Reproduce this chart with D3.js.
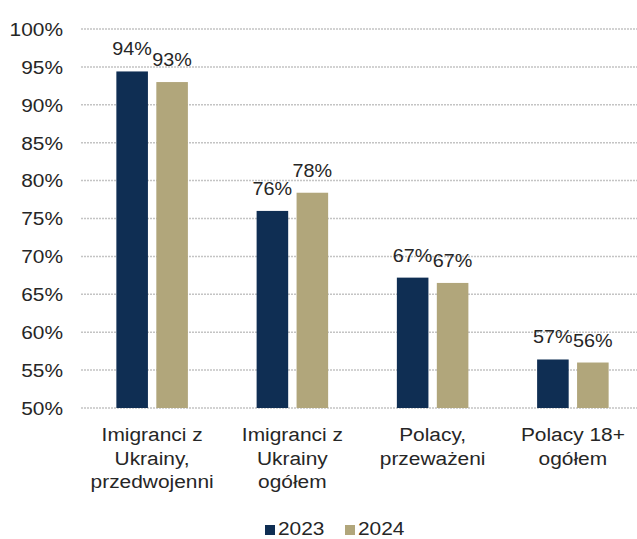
<!DOCTYPE html>
<html>
<head>
<meta charset="utf-8">
<script src="https://cdn.jsdelivr.net/npm/d3@7"></script>
<style>
  body { margin: 0; background: #fff; }
  text { font-family: "Liberation Sans", Arial, sans-serif; fill: #262626; }
</style>
</head>
<body>
<svg id="viz"></svg>
<script>
let width = 637;
let height = 539;

// data
let categories = [
    ["Imigranci z", "Ukrainy,", "przedwojenni"],
    ["Imigranci z", "Ukrainy", "ogółem"],
    ["Polacy,", "przeważeni"],
    ["Polacy 18+", "ogółem"]
];
let years = ["2023", "2024"];
let values2023 = [0.944, 0.760, 0.672, 0.564];
let values2024 = [0.930, 0.784, 0.665, 0.560];
let labels2023 = ["94%", "76%", "67%", "57%"];
let labels2024 = ["93%", "78%", "67%", "56%"];
let yTicks = [0.50, 0.55, 0.60, 0.65, 0.70, 0.75, 0.80, 0.85, 0.90, 0.95, 1.00];

let color = d3.scaleOrdinal().domain(years).range(["#0f2e53", "#b1a67b"]);
let stretch = 1.1;

let svg = d3.select("#viz")
    .attr("width", width)
    .attr("height", height);

let x0 = d3.scaleBand()
    .domain(d3.range(categories.length))
    .range([82, 643]);
let x1 = d3.scaleBand()
    .domain(years)
    .range([0, x0.bandwidth()])
    .paddingInner(0.21)
    .paddingOuter(0.86);
let y = d3.scaleLinear()
    .domain([0.5, 1])
    .range([408, 29]);

// gridlines
svg.append("g").selectAll("line")
    .data(yTicks)
    .enter().append("line")
    .attr("x1", 81)
    .attr("x2", width)
    .attr("y1", (d) => y(d))
    .attr("y2", (d) => y(d))
    .attr("stroke", "#c4c4c4")
    .attr("stroke-width", 1.5)
    .attr("stroke-dasharray", "2,1");

// y tick labels
svg.append("g").selectAll("text")
    .data(yTicks)
    .enter().append("text")
    .attr("transform", (d) => "translate(63," + y(d) + ") scale(" + stretch + ",1)")
    .attr("dy", "0.36em")
    .attr("text-anchor", "end")
    .style("font-size", "19px")
    .text((d) => d3.format(".0%")(d));

let rows = years.map((yr, i) => ({
    key: yr,
    values: i == 0 ? values2023 : values2024,
    labels: i == 0 ? labels2023 : labels2024
}));

let series = svg.append("g").selectAll("g")
    .data(rows)
    .enter().append("g")
    .style("fill", (d) => color(d.key));

series.selectAll("rect")
    .data((d) => d.values.map((v, i) => ({ key: d.key, i: i, v: v })))
    .enter().append("rect")
    .attr("x", (d) => x0(d.i) + x1(d.key))
    .attr("y", (d) => y(d.v))
    .attr("width", x1.bandwidth())
    .attr("height", (d) => y(0.5) - y(d.v));

// data labels
svg.append("g").selectAll("g")
    .data(rows)
    .enter().append("g")
    .selectAll("text")
    .data((d) => d.values.map((v, i) => ({ key: d.key, i: i, v: v, label: d.labels[i] })))
    .enter().append("text")
    .attr("transform", (d) => "translate(" + (x0(d.i) + x1(d.key) + x1.bandwidth() / 2) + "," + (y(d.v) - 16) + ") scale(" + stretch + ",1)")
    .attr("text-anchor", "middle")
    .style("font-size", "18px")
    .text((d) => d.label);

// category labels
let cats = svg.append("g").selectAll("g")
    .data(categories)
    .enter().append("g");

cats.selectAll("text")
    .data((d, i) => d.map((line, j) => ({ line: line, j: j, i: i })))
    .enter().append("text")
    .attr("transform", (d) => "translate(" + (x0(d.i) + x0.bandwidth() / 2) + "," + (441 + d.j * 23.5) + ") scale(" + stretch + ",1)")
    .attr("text-anchor", "middle")
    .style("font-size", "19px")
    .text((d) => d.line);

// legend
let legendX = [265, 345];
let legend = svg.append("g").selectAll("g")
    .data(years)
    .enter().append("g")
    .attr("transform", (d, i) => "translate(" + legendX[i] + ",525)");

legend.append("rect")
    .attr("width", 10)
    .attr("height", 10)
    .style("fill", (d) => color(d));

legend.append("text")
    .attr("transform", "translate(13,10) scale(" + stretch + ",1)")
    .style("font-size", "19px")
    .text((d) => d);
</script>
</body>
</html>
